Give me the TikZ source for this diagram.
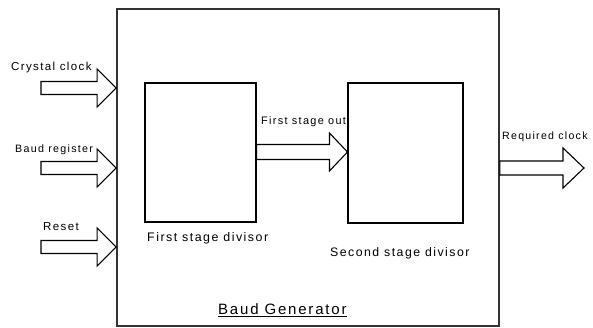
\documentclass[tikz,border=0pt]{standalone}
\usepackage{fontspec}
\setmainfont{Liberation Sans}
\newfontfamily\lblfont[LetterSpace=12]{Liberation Sans}
\usetikzlibrary{calc}
\tikzset{
  box/.style={draw=black, line width=1.1pt, minimum width=#1, inner sep=0pt},
  outerbox/.style={draw=black!80, line width=1.8pt, inner sep=0pt},
  arrowline/.style={draw=black, line width=1.1pt, line join=miter, fill=white},
  lbl/.style={inner sep=0pt, anchor=base west, font=\lblfont\fontsize{11}{13}\selectfont},
}
\newcommand\blockarrow[5]{%
  \draw[arrowline] let \p1=(#1), \p2=(#2) in
    (\x1,\y2+#3pt) -- (\x2-#5pt,\y2+#3pt) -- (\x2-#5pt,\y2+#4pt) -- (\x2,\y2)
    -- (\x2-#5pt,\y2-#4pt) -- (\x2-#5pt,\y2-#3pt) -- (\x1,\y2-#3pt) -- cycle;}
\begin{document}
\begin{tikzpicture}[x=1pt,y=-1pt]
\useasboundingbox (0,0) rectangle (593,328);
% boxes
\node[outerbox, minimum width=382pt, minimum height=317pt] (outer) at (308,167.5) {};
\node[box=111pt, minimum height=139pt] (first) at (200.5,152.5) {};
\node[box=115pt, minimum height=140pt] (second) at (405.5,153) {};
% tails
\coordinate (t1) at (41,88);
\coordinate (t2) at (41,168);
\coordinate (t3) at (41,247);
\coordinate (tm) at (first.east |- 0,152);
\coordinate (tr) at (outer.east |- 0,168);
\coordinate (rtip) at (584,168);
% arrows
\blockarrow{t1}{outer.west |- t1}{6.5}{19}{19}
\blockarrow{t2}{outer.west |- t2}{6.5}{19}{19}
\blockarrow{t3}{outer.west |- t3}{6.5}{19}{19}
\blockarrow{tm}{second.west |- tm}{7.5}{19}{18}
\blockarrow{tr}{rtip}{7}{20}{21}
% labels
\node[lbl, font=\lblfont\fontsize{11.5}{13}\selectfont] (lc) at (11,71) {Crystal clock};
\node[lbl, font=\lblfont\fontsize{10.7}{13}\selectfont] (lb) at (15,153) {Baud register};
\node[lbl, font=\lblfont\fontsize{11.5}{13}\selectfont] (lr) at (43,230) {Reset};
\node[lbl, font=\lblfont\fontsize{10.9}{13}\selectfont] (lf) at (261,125) {First stage out};
\node[lbl, font=\lblfont\fontsize{10.6}{13}\selectfont] (lq) at (502,140) {Required clock};
\node[lbl, font=\lblfont\fontsize{12.4}{14}\selectfont] (ld1) at (147,241.5) {First stage divisor};
\node[lbl, font=\lblfont\fontsize{12.3}{14}\selectfont] (ld2) at (330,256.5) {Second stage divisor};
\node[lbl, font=\lblfont\fontsize{15}{17}\selectfont] (lt) at (218,314.5) {\underline{Baud Generator}};
\end{tikzpicture}
\end{document}
